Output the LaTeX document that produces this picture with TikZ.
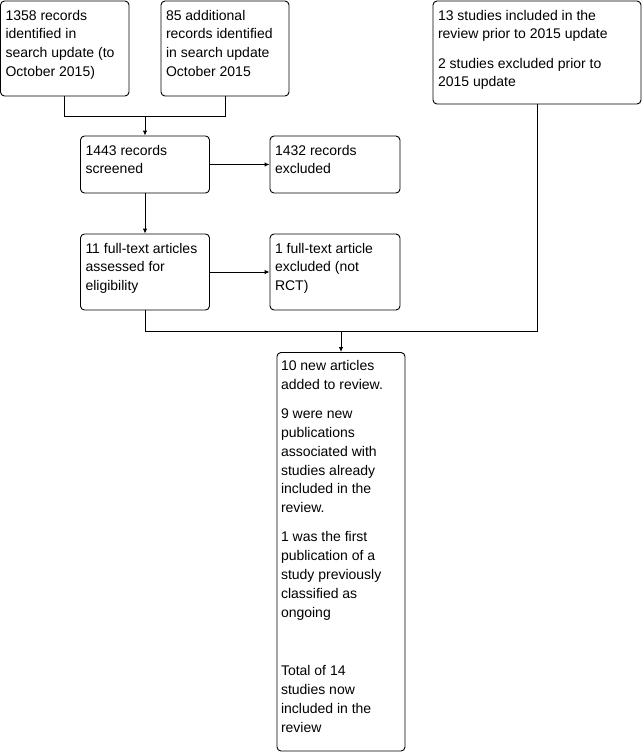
\documentclass[tikz,border=0pt]{standalone}
\usepackage{fontspec}
\setmainfont{Liberation Sans}
\usetikzlibrary{arrows.meta}

\tikzset{
  box/.style={draw, rounded corners=4pt, inner sep=0pt},
  txt/.style={anchor=north west, inner sep=0pt, align=left, font=\fontsize{14}{18.8}\selectfont},
}

\begin{document}
\begin{tikzpicture}[x=1pt, y=-1pt, line width=0.9pt, >={Latex[length=5pt,width=4.5pt]}]
    \useasboundingbox (0,0) rectangle (642,753);

    % boxes
    \node[box, minimum width=128.5pt, minimum height=95pt] (search) at (64.75,48.5) {};
    \node[box, minimum width=128pt, minimum height=95pt] (extra) at (225,48.5) {};
    \node[box, minimum width=208pt, minimum height=103pt] (prior) at (537,52.5) {};
    \node[box, minimum width=129pt, minimum height=57pt] (screened) at (145,164.5) {};
    \node[box, minimum width=130pt, minimum height=57pt] (excluded) at (335,164.5) {};
    \node[box, minimum width=129pt, minimum height=76pt] (fulltext) at (145,272) {};
    \node[box, minimum width=130pt, minimum height=76pt] (notrct) at (335,272) {};
    \node[box, minimum width=128pt, minimum height=398.5pt] (added) at (341,551.75) {};

    % texts
    \node[txt] (search-t) at ([shift={(5,6)}]search.north west)
        {\strut 1358 records\\identified in\\search update (to\\October 2015)};
    \node[txt] (extra-t) at ([shift={(5,6)}]extra.north west)
        {\strut 85 additional\\records identified\\in search update\\October 2015};
    \node[txt] (prior-t) at ([shift={(5,6)}]prior.north west)
        {\strut 13 studies included in the\\review prior to 2015 update\\[10.4pt]2 studies excluded prior to\\2015 update};
    \node[txt] (screened-t) at ([shift={(5,6)}]screened.north west)
        {\strut 1443 records\\screened};
    \node[txt] (excluded-t) at ([shift={(5,6)}]excluded.north west)
        {\strut 1432 records\\excluded};
    \node[txt] (fulltext-t) at ([shift={(5,6)}]fulltext.north west)
        {\strut 11 full-text articles\\assessed for\\eligibility};
    \node[txt] (notrct-t) at ([shift={(5,6)}]notrct.north west)
        {\strut 1 full-text article\\excluded (not\\RCT)};
    \node[txt] (added-t) at ([shift={(4,5)}]added.north west)
        {\strut 10 new articles\\added to review.\\[10.4pt]9 were new\\publications\\associated with\\studies already\\included in the\\review.\\[10.4pt]1 was the first\\publication of a\\study previously\\classified as\\ongoing\\[39.8pt]Total of 14\\studies now\\included in the\\review};

    % connectors
    \path (search.south) ++(0,20) coordinate (join1);
    \draw (search.south) -- (join1) -| (extra.south);
    \draw[->] (join1 -| screened.north) -- (screened.north);
    \draw[->] (screened.east) -- (excluded.west);
    \draw[->] (screened.south) -- (fulltext.north);
    \draw[->] (fulltext.east) -- (notrct.west);
    \path (fulltext.south) ++(0,21) coordinate (join2);
    \draw (fulltext.south) -- (join2) -| (prior.south);
    \draw[->] (join2 -| added.north) -- (added.north);
\end{tikzpicture}
\end{document}
